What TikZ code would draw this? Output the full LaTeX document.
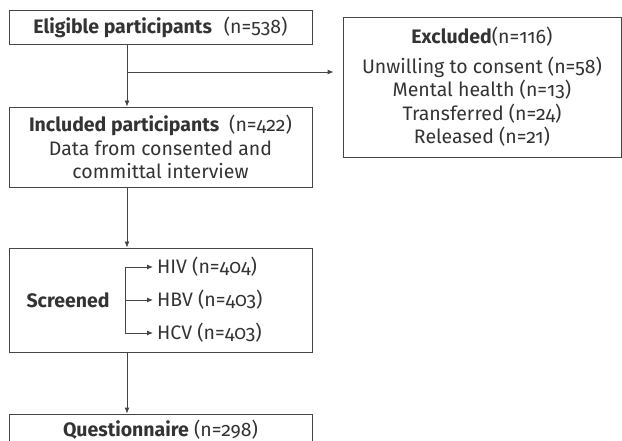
\documentclass[tikz,border=0pt]{standalone}
\usepackage{fontspec}
\setmainfont{Fira Sans}[Numbers=OldStyle]
\usetikzlibrary{positioning, arrows.meta, calc}
\definecolor{flowgray}{rgb}{0.27,0.27,0.27}
\definecolor{textgray}{rgb}{0.2,0.2,0.2}

\begin{document}
\begin{tikzpicture}[x=1pt, y=-1pt,
    box/.style={draw=flowgray, line width=0.9pt, text=textgray, inner sep=0pt,
                align=center, font=\fontsize{19.5}{23.5}\selectfont},
    item/.style={text=textgray, inner sep=4pt, font=\fontsize{19.5}{23.5}\selectfont},
    flow/.style={draw=flowgray, line width=0.9pt, -{Latex[length=6pt,width=5pt]}},
    rail/.style={draw=flowgray, line width=0.9pt}]
            \useasboundingbox (0,0) rectangle (622,441);
            \node[box, minimum width=303, minimum height=34] (elig) at (160.5,27)
                {\textbf{Eligible participants}\hspace{12pt}(n=538)};
            \node[box, minimum width=303, minimum height=80] (incl) at (160.5,147)
                {\textbf{Included participants}\hspace{10pt}(n=422)\\Data from consented and\\committal interview};
            \node[box, minimum width=278, minimum height=140] (excl) at (482,87)
                {\textbf{Excluded}(n=116)\\[6pt]Unwilling to consent (n=58)\\Mental health (n=13)\\Transferred (n=24)\\Released (n=21)};
            \node[box, minimum width=303, minimum height=104] (scr) at (160.5,300) {};
            \node[item] (scrname) at (68,300) {\textbf{Screened}};
            \node[item, anchor=west] (hiv) at (153,267) {HIV (n=404)};
            \node[item, anchor=west] (hbv) at (153,300) {HBV (n=403)};
            \node[item, anchor=west] (hcv) at (153,333) {HCV (n=403)};
            \node[box, minimum width=303, minimum height=32] (quest) at (160.5,430)
                {\textbf{Questionnaire} (n=298)};
            \coordinate (trunk) at (127,0);
            \coordinate (branch) at (127,72);
            \coordinate (fork) at (125,0);
            \draw[flow] (elig.south -| trunk) -- (incl.north -| trunk);
            \draw[flow, shorten >=9pt] (branch) -- (branch -| excl.west);
            \draw[flow] (incl.south -| trunk) -- (scr.north -| trunk);
            \draw[flow] (scr.south -| trunk) -- (quest.north -| trunk);
            \draw[rail] (fork |- hiv.west) -- (fork |- hcv.west);
            \foreach \n in {hiv,hbv,hcv}
                \draw[flow] (fork |- \n.west) -- (\n.west);
        \end{tikzpicture}
\end{document}
